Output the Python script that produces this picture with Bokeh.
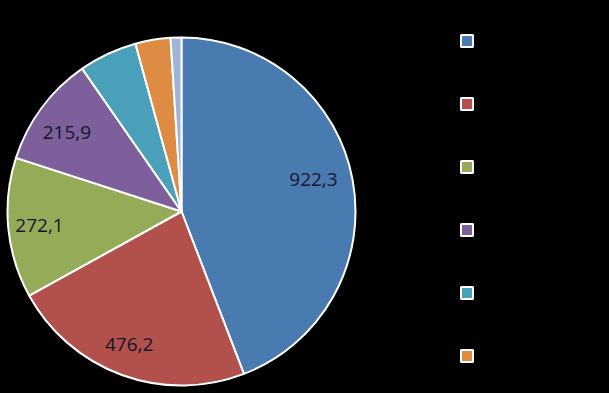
import math
import numpy as np
from bokeh.plotting import figure
from bokeh.models import Legend, LegendItem, Range1d
from bokeh.core.properties import value
from bokeh.embed import file_html
from bokeh.resources import INLINE

# data
values = [922.3, 476.2, 272.1, 215.9, 113.0, 68.0, 21.0]
labels = ["922,3", "476,2", "272,1", "215,9", "", "", ""]
colors = ["#4A7BB0", "#B2504C", "#94AC58", "#7D609B", "#4AA0B9", "#DE8C44", "#A0B4D7"]
# label placement (style): radius fraction and angular nudge in degrees
label_r = [0.78, 0.82, 0.82, 0.80, 0.8, 0.8, 0.8]
label_nudge = [3.0, -1.5, 0.0, 2.0, 0.0, 0.0, 0.0]

W, H = 609, 393
cx, cy, R = 181, 182, 174

vals = np.array(values)
frac = vals / vals.sum()
cum_end = np.cumsum(frac) * 2 * math.pi
cum_start = cum_end - frac * 2 * math.pi
start = math.pi / 2 - cum_end
end = math.pi / 2 - cum_start
mid = (start + end) / 2

p = figure(width=W, height=H, output_backend="svg", toolbar_location=None,
           x_range=Range1d(0, W), y_range=Range1d(0, H), min_border=0)
p.axis.visible = False
p.grid.visible = False
p.outline_line_color = None
p.background_fill_color = "black"
p.border_fill_color = "black"

wedges = []
for i in range(len(values)):
    r = p.wedge(x=cx, y=cy, radius=R, start_angle=start[i], end_angle=end[i],
                fill_color=colors[i], line_color="white", line_width=2)
    wedges.append(r)

lab_idx = [i for i in range(len(values)) if labels[i]]
ang = [mid[i] + math.radians(label_nudge[i]) for i in lab_idx]
lx = [cx + label_r[i] * R * math.cos(a) for i, a in zip(lab_idx, ang)]
ly = [cy + label_r[i] * R * math.sin(a) for i, a in zip(lab_idx, ang)]
p.text(x=lx, y=ly, text=[labels[i] for i in lab_idx], text_align="center",
       text_baseline="middle", text_font=value("Open Sans"),
       text_font_size="19px", text_color="#15152a")

items = [LegendItem(label=" ", renderers=[wedges[i]]) for i in range(6)]
legend = Legend(items=items, location=(459, 30), padding=0, margin=0,
                spacing=48, glyph_width=15, glyph_height=15, label_height=15,
                label_text_font_size="8px", label_text_color="black",
                border_line_color=None, background_fill_alpha=0)
p.add_layout(legend, "center")

html = file_html(p, INLINE)
html = html.replace("<head>", "<head><style>html,body{background:#000;}</style>", 1)
open("out.html", "w").write(html)
